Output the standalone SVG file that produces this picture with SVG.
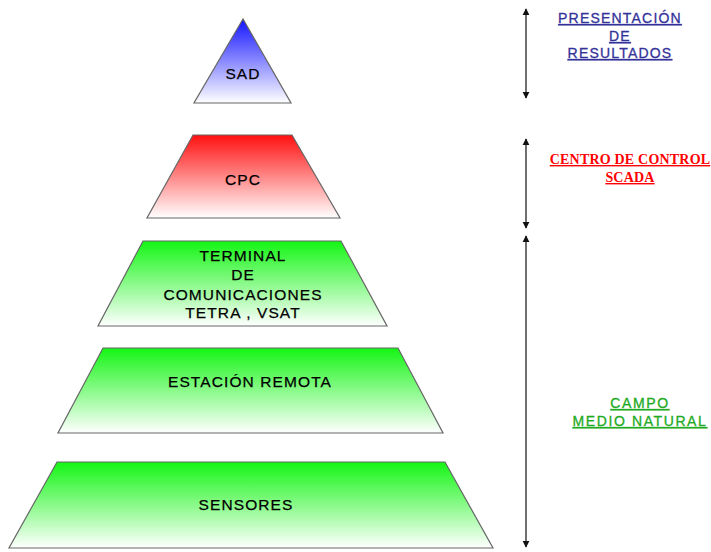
<svg xmlns="http://www.w3.org/2000/svg" width="711" height="552" viewBox="0 0 711 552">
<style>
.shape{stroke:#666;stroke-width:1.2}
.lbl{font-family:"Liberation Sans",Arial,sans-serif;font-size:15.5px;letter-spacing:1.1px;fill:#000;stroke:#000;stroke-width:0.25;text-anchor:middle}
.side{font-family:"Liberation Sans",Arial,sans-serif;font-size:14px;text-anchor:middle;text-decoration:underline;stroke-width:0.3}
.blue{fill:#33339a;stroke:#33339a;letter-spacing:1.2px}
.red{fill:#ff0000;stroke:#ff0000;stroke-width:0;font-family:"Liberation Serif","Times New Roman",serif;font-weight:bold;letter-spacing:0.2px}
.green{fill:#22aa22;stroke:#22aa22;letter-spacing:1.6px}
.conn{stroke:#222;stroke-width:1.3;fill:none}
</style>
<defs>
<linearGradient id="gBlue" x1="0" y1="0" x2="0" y2="1"><stop offset="0" stop-color="#1414ff"/><stop offset="1" stop-color="#ffffff"/></linearGradient>
<linearGradient id="gRed" x1="0" y1="0" x2="0" y2="1"><stop offset="0" stop-color="#ff1010"/><stop offset="1" stop-color="#ffffff"/></linearGradient>
<linearGradient id="gGreen" x1="0" y1="0" x2="0" y2="1"><stop offset="0" stop-color="#14f514"/><stop offset="1" stop-color="#ffffff"/></linearGradient>
<marker id="ah" viewBox="0 0 10 10" refX="9" refY="5" markerWidth="7" markerHeight="8" markerUnits="userSpaceOnUse" orient="auto-start-reverse"><path d="M0,0 L10,5 L0,10 z" fill="#111"/></marker>
</defs>
<g id="sad">
<polygon class="shape" fill="url(#gBlue)" points="243,19 194,103 291,103"/>
<text class="lbl" x="243" y="79">SAD</text>
</g>
<g id="cpc">
<polygon class="shape" fill="url(#gRed)" points="193,135 292,135 340,218 147,218"/>
<text class="lbl" x="243" y="185">CPC</text>
</g>
<g id="terminal">
<polygon class="shape" fill="url(#gGreen)" points="143,241 341,241 387,326 98,326"/>
<text class="lbl" x="243" y="261">TERMINAL</text>
<text class="lbl" x="243" y="280">DE</text>
<text class="lbl" x="243" y="300">COMUNICACIONES</text>
<text class="lbl" x="243" y="318">TETRA , VSAT</text>
</g>
<g id="estacion">
<polygon class="shape" fill="url(#gGreen)" points="103,348 398,348 443,433 58,433"/>
<text class="lbl" x="250" y="387">ESTACIÓN REMOTA</text>
</g>
<g id="sensores">
<polygon class="shape" fill="url(#gGreen)" points="57,462 445,462 493,548 9,548"/>
<text class="lbl" x="246" y="510">SENSORES</text>
</g>
<g id="connectors">
<line class="conn" x1="526" y1="9" x2="526" y2="98" marker-start="url(#ah)" marker-end="url(#ah)"/>
<line class="conn" x1="526" y1="139" x2="526" y2="228" marker-start="url(#ah)" marker-end="url(#ah)"/>
<line class="conn" x1="526" y1="236" x2="526" y2="547" marker-start="url(#ah)" marker-end="url(#ah)"/>
</g>
<g id="label-presentacion">
<text class="side blue" x="620" y="23">PRESENTACIÓN</text>
<text class="side blue" x="620" y="41">DE</text>
<text class="side blue" x="620" y="58">RESULTADOS</text>
</g>
<g id="label-centro">
<text class="side red" x="630" y="164">CENTRO DE CONTROL</text>
<text class="side red" x="630" y="182">SCADA</text>
</g>
<g id="label-campo">
<text class="side green" x="640" y="408">CAMPO</text>
<text class="side green" x="640" y="426">MEDIO NATURAL</text>
</g>
</svg>
